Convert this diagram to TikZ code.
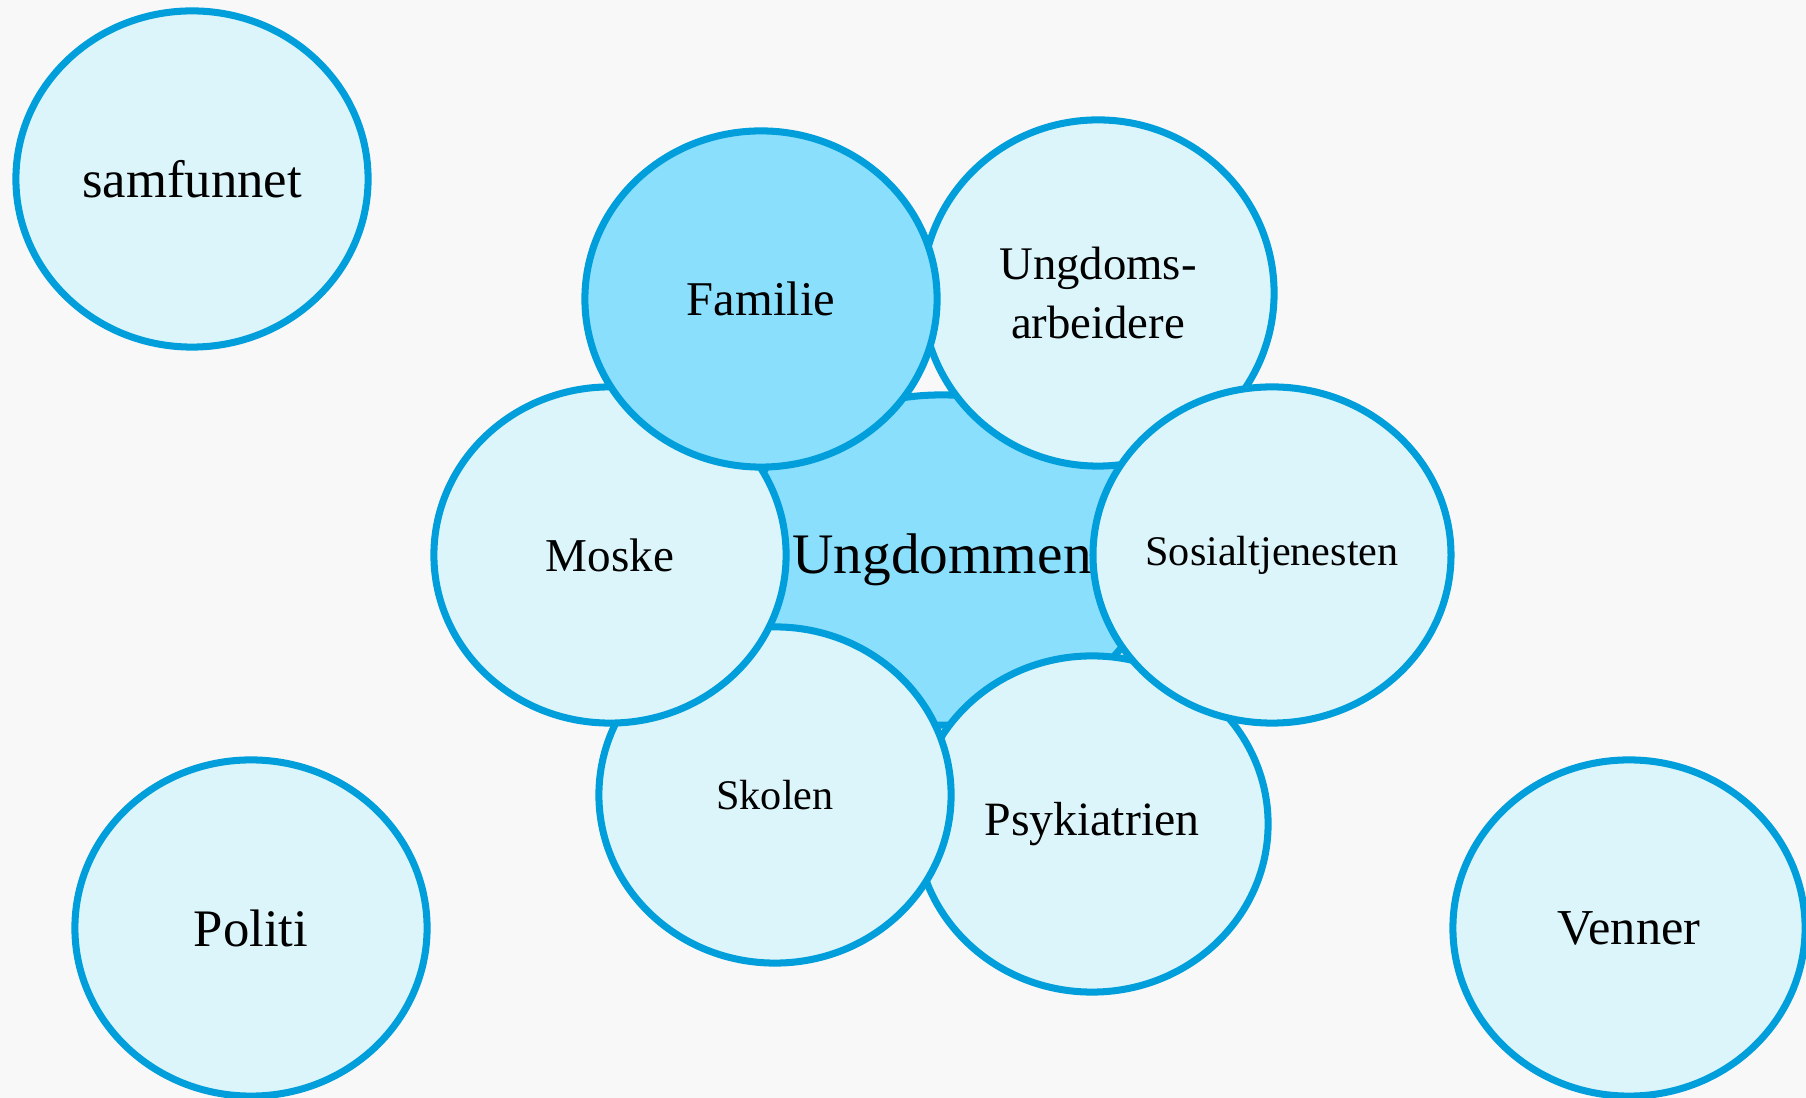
\documentclass[tikz,border=0pt]{standalone}
\usepackage{fontspec}
\setmainfont{Liberation Serif}
\usetikzlibrary{shapes.geometric}

\definecolor{ringblue}{RGB}{0,158,218}
\definecolor{palefill}{RGB}{220,245,250}
\definecolor{deepfill}{RGB}{138,223,253}
\definecolor{backdrop}{RGB}{248,248,248}

\begin{document}
\begin{tikzpicture}[x=0.01cm, y=-0.01cm,
    bubble/.style={ellipse, draw=ringblue, line width=2pt, fill=palefill, inner sep=0pt,
        minimum width=3.52cm, minimum height=3.36cm, align=center},
    core/.style={bubble, fill=deepfill}]

    % background
    \fill[backdrop] (0,0) rectangle (1806,1098);
    \useasboundingbox (0,0) rectangle (1806,1098);

    % centre (drawn first, the ring lies on top of it)
    \node[core, minimum width=3.45cm, minimum height=3.30cm, font=\fontsize{16.3}{18}\selectfont] (ungdommen) at (942,560) {Ungdommen};

    % ring round the centre, back to front
    \node[bubble, font=\fontsize{13.6}{16}\selectfont] (psykiatrien) at (1092,824) {Psykiatrien};
    \node[bubble, font=\fontsize{12}{14}\selectfont] (skolen) at (775,795) {Skolen};
    \node[bubble, font=\fontsize{13.4}{16}\selectfont] (moske) at (610,555) {Moske};
    \node[bubble, minimum height=3.46cm, font=\fontsize{13.3}{16.5}\selectfont] (ungdomsarb) at (1098,293) {Ungdoms-\\arbeidere};
    \node[core, font=\fontsize{13.8}{16}\selectfont] (familie) at (761,299) {Familie};
    \node[bubble, font=\fontsize{12}{14}\selectfont] (sosial) at (1272,555) {Sosialtjenesten};

    % loose ones in the corners
    \node[bubble, font=\fontsize{15}{18}\selectfont] (samfunnet) at (192,179) {samfunnet};
    \node[bubble, font=\fontsize{15}{18}\selectfont] (politi) at (251,928) {Politi};
    \node[bubble, font=\fontsize{14.3}{17}\selectfont] (venner) at (1629,928) {Venner};

\end{tikzpicture}
\end{document}
